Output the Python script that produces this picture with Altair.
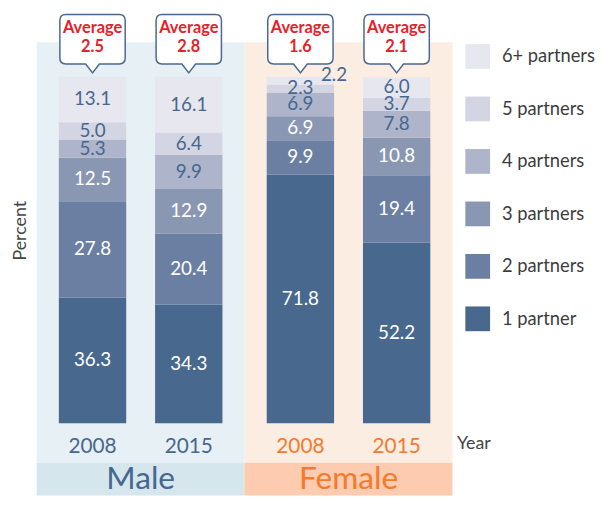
import altair as alt
import pandas as pd

FONT = "Lato"

groups = ["Male", "Male", "Female", "Female"]
years = ["2008", "2015", "2008", "2015"]
categories = ["1 partner", "2 partners", "3 partners", "4 partners", "5 partners", "6+ partners"]
male_2008 = [36.3, 27.8, 12.5, 5.3, 5.0, 13.1]
male_2015 = [34.3, 20.4, 12.9, 9.9, 6.4, 16.1]
female_2008 = [71.8, 9.9, 6.9, 6.9, 2.3, 2.2]
female_2015 = [52.2, 19.4, 10.8, 7.8, 3.7, 6.0]
averages = ["2.5", "2.8", "1.6", "2.1"]

seg_colors = ["#48688e", "#6a7fa1", "#8a97b3", "#aeb4c9", "#d3d6e2", "#e7e8ef"]
label_colors = ["white", "white", "white", "#47678f", "#47678f", "#47678f"]
group_text = {"Male": "#47678f", "Female": "#f47a2c"}
group_light = {"Male": "#e7f0f4", "Female": "#fcede3"}
group_band = {"Male": "#d6e6ed", "Female": "#fccbb0"}

series = [male_2008, male_2015, female_2008, female_2015]

rows = []
for g, yr, vals in zip(groups, years, series):
    start = 0.0
    for cat, v, lc in zip(categories, vals, label_colors):
        end = start + v
        outside = (g == "Female" and yr == "2008" and cat == "6+ partners")
        rows.append(dict(group=g, year=yr, cat=cat, start=start, end=end,
                         mid=(start + end) / 2, label=f"{v:.1f}", tcolor=lc,
                         outside=outside))
        start = end
seg = pd.DataFrame(rows)

bars_df = pd.DataFrame(dict(group=groups, year=years, avg=averages,
                            gcolor=[group_text[g] for g in groups]))
grp_df = pd.DataFrame(dict(group=["Male", "Female"],
                           light=[group_light["Male"], group_light["Female"]],
                           band=[group_band["Male"], group_band["Female"]],
                           gcolor=[group_text["Male"], group_text["Female"]]))

Y_TOP = 119.143
Y_BOT = -20.857
y_scale = alt.Scale(domain=[Y_BOT, Y_TOP], nice=False, zero=False)

x_enc = alt.X("group:N",
              scale=alt.Scale(domain=["Male", "Female"], paddingInner=0, paddingOuter=0),
              axis=alt.Axis(title="Year", labels=False, ticks=False, domain=False, grid=False,
                            titleX=424, titleY=-52, titleAlign="left", titleBaseline="middle",
                            titleFontSize=18, titleFontWeight="normal", titleColor="#444444",
                            titleFont=FONT))
xo_enc = alt.XOffset("year:N", scale=alt.Scale(domain=["2008", "2015"],
                                               paddingInner=0.3, paddingOuter=0.23))
y_axis = alt.Axis(title="Percent", labels=False, ticks=False, domain=False, grid=False,
                  titleX=-16, titleY=222, titleAngle=-90, titleAlign="center",
                  titleBaseline="middle", titleFontSize=18, titleFontWeight="normal",
                  titleColor="#444444", titleFont=FONT)

bg_light = alt.Chart(grp_df).mark_rect().encode(
    x=x_enc,
    y=alt.Y(datum=110, scale=y_scale, axis=y_axis),
    y2=alt.Y2(datum=-11.43),
    color=alt.Color("light:N", scale=None),
)
bg_band = alt.Chart(grp_df).mark_rect().encode(
    x=x_enc,
    y=alt.Y(datum=-11.43, scale=y_scale),
    y2=alt.Y2(datum=Y_BOT),
    color=alt.Color("band:N", scale=None),
)

bars = alt.Chart(seg).mark_bar(strokeWidth=0).encode(
    x=x_enc, xOffset=xo_enc,
    y=alt.Y("end:Q", scale=y_scale),
    y2="start:Q",
    color=alt.Color("cat:N",
                    scale=alt.Scale(domain=categories[::-1], range=seg_colors[::-1]),
                    legend=alt.Legend(title=None, orient="none", legendX=433, legendY=34,
                                      symbolType="square", symbolSize=625,
                                      symbolStrokeWidth=0, symbolOpacity=1,
                                      labelFontSize=18.5, labelFont=FONT,
                                      labelColor="#3c3c3c", labelOffset=12,
                                      rowPadding=28, padding=0)),
)

seg_labels = alt.Chart(seg).transform_filter("!datum.outside").mark_text(
    font=FONT, fontSize=19, baseline="middle", align="center").encode(
    x=x_enc, xOffset=xo_enc,
    y=alt.Y("mid:Q", scale=y_scale),
    text="label:N",
    color=alt.Color("tcolor:N", scale=None),
)

out_label = alt.Chart(seg).transform_filter("datum.outside").mark_text(
    font=FONT, fontSize=19, baseline="middle", align="center", dx=34,
    color="#47678f").encode(
    x=x_enc, xOffset=xo_enc,
    y=alt.Y(datum=100.6, scale=y_scale),
    text="label:N",
)

BUBBLE = ("M -0.82 -0.758 L 0.82 -0.758 Q 1 -0.758 1 -0.578 L 1 0.578 "
          "Q 1 0.758 0.82 0.758 L 0.21 0.758 L 0 1.03 L -0.21 0.758 "
          "L -0.82 0.758 Q -1 0.758 -1 0.578 L -1 -0.578 Q -1 -0.758 -0.82 -0.758 Z")

bubble = alt.Chart(bars_df).mark_point(
    shape=BUBBLE, size=4356, filled=True, fill="white", stroke="#4a6890",
    strokeWidth=1.5, opacity=1, fillOpacity=1, strokeOpacity=1).encode(
    x=x_enc, xOffset=xo_enc,
    y=alt.Y(datum=110.857, scale=y_scale),
)

avg_word = alt.Chart(bars_df).mark_text(
    font=FONT, fontSize=16.5, fontWeight="bold", color="#e4222a",
    baseline="middle", align="center", text="Average").encode(
    x=x_enc, xOffset=xo_enc,
    y=alt.Y(datum=114.2, scale=y_scale),
)
avg_num = alt.Chart(bars_df).mark_text(
    font=FONT, fontSize=16.5, fontWeight="bold", color="#e4222a",
    baseline="middle", align="center").encode(
    x=x_enc, xOffset=xo_enc,
    y=alt.Y(datum=108.7, scale=y_scale),
    text="avg:N",
)

year_labels = alt.Chart(bars_df).mark_text(
    font=FONT, fontSize=21, baseline="middle", align="center").encode(
    x=x_enc, xOffset=xo_enc,
    y=alt.Y(datum=-6.9, scale=y_scale),
    text="year:N",
    color=alt.Color("gcolor:N", scale=None),
)

group_labels = alt.Chart(grp_df).mark_text(
    font=FONT, fontSize=32, baseline="alphabetic", align="center").encode(
    x=x_enc,
    y=alt.Y(datum=-18.9, scale=y_scale),
    text="group:N",
    color=alt.Color("gcolor:N", scale=None),
)

chart = alt.layer(
    bg_light, bg_band, bars, seg_labels, out_label, bubble, avg_word, avg_num,
    year_labels, group_labels
).resolve_scale(color="independent").properties(
    width=420, height=490,
    padding={"left": 29, "top": 0, "right": 145, "bottom": 0},
    autosize=alt.AutoSizeParams(type="none"),
).configure_view(stroke=None)

chart.save("out.html", embed_options={"renderer": "svg", "actions": False})
